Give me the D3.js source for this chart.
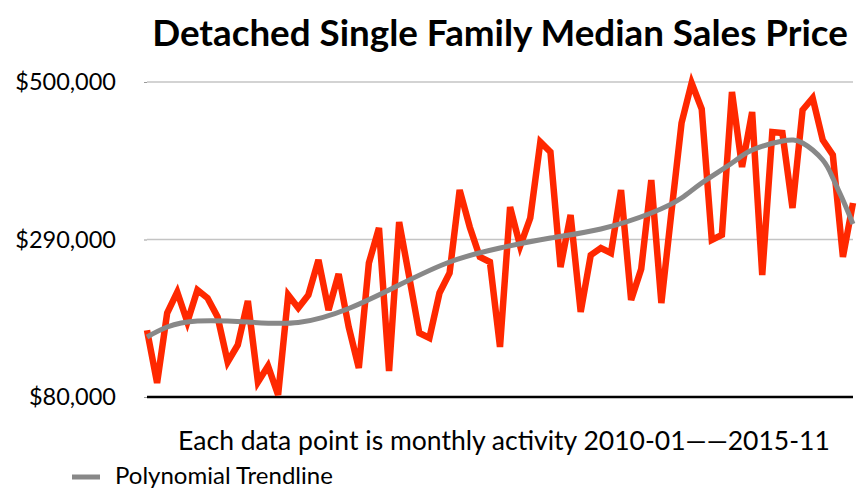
<!DOCTYPE html>
<html>
<head>
<meta charset="utf-8">
<script src="https://cdn.jsdelivr.net/npm/d3@7"></script>
<style>
  body { margin: 0; background: #fff; }
  text { font-family: Lato, "Open Sans", sans-serif; fill: #000; }
</style>
</head>
<body>
<div id="chart"></div>
<script>
// monthly median sales price, 2010-01 .. 2015-11
var months = d3.timeMonth.range(new Date(2010, 0, 1), new Date(2015, 11, 1))
  .map(d3.timeFormat("%Y-%m"));

var prices = [
  169000, 98700, 192000, 220000, 180000, 222700, 212000, 186700, 126700, 149300,
  208000, 100000, 121300, 82700, 216000, 198700, 216000, 262700, 196000, 244000,
  173300, 118700, 258700, 305300, 114700, 313300, 240000, 165300, 158700, 218700,
  245300, 356000, 306700, 266700, 260000, 146700, 333300, 281300, 318700, 420000,
  406700, 253300, 322700, 193300, 269300, 278700, 272000, 356000, 209300, 250700,
  369300, 205300, 326700, 445300, 498700, 464000, 289300, 296000, 486700, 386700,
  460000, 242700, 433300, 432000, 332000, 462700, 478700, 422700, 402700, 266700,
  338700
];

// polynomial trendline at some months
var trendIdx = [0, 2, 5, 10, 15, 20, 25, 30, 35, 40, 45, 50, 53, 55, 58, 60, 63, 65, 67, 68, 69, 70];
var trendVal = [160000, 173300, 181300, 180000, 179300, 198000, 229300, 260000,
  278700, 292000, 304000, 325300, 345300, 365300, 392000, 409300, 421300, 418700,
  396000, 372000, 342700, 310700];

var yTicks = [80000, 290000, 500000];

var W = 867, H = 490;
var margin = {top: 82, right: 14, bottom: 93, left: 147};

var svg = d3.select("#chart").append("svg")
  .attr("width", W)
  .attr("height", H);

var x = d3.scalePoint()
  .domain(months)
  .range([margin.left, W - margin.right]);

var y = d3.scaleLinear()
  .domain([80000, 500000])
  .range([H - margin.bottom, margin.top]);

function fit(sel, size, target) {
  sel.style("font-size", size + "px");
  var w = sel.node().getComputedTextLength();
  sel.style("font-size", (size * target / w) + "px");
}

// title
var title = svg.append("text")
  .attr("x", 500)
  .attr("y", 46)
  .attr("text-anchor", "middle")
  .style("font-weight", "bold")
  .text("Detached Single Family Median Sales Price");
fit(title, 32, 696);

// gridlines
svg.append("g")
  .selectAll("line")
  .data(yTicks.slice(1))
  .enter()
  .append("line")
    .attr("x1", margin.left)
    .attr("x2", W - margin.right)
    .attr("y1", function(d) { return y(d); })
    .attr("y2", function(d) { return y(d); })
    .attr("stroke", "#c4c4c4")
    .attr("stroke-width", 1.3);

// y axis
var yAxis = svg.append("g")
  .attr("transform", "translate(" + margin.left + ",0)")
  .call(d3.axisLeft(y)
    .tickValues(yTicks)
    .tickSize(3)
    .tickPadding(28)
    .tickFormat(function(d) { return "$" + d3.format(",")(d); }));
yAxis.select(".domain").remove();
yAxis.selectAll(".tick line").attr("stroke", "#999");
yAxis.selectAll("text")
  .style("font-size", "23.5px")
  .style("font-family", "Lato, sans-serif")
  .attr("fill", "#000");

// bottom axis line
svg.append("line")
  .attr("x1", margin.left)
  .attr("x2", W - margin.right)
  .attr("y1", y(80000))
  .attr("y2", y(80000))
  .attr("stroke", "#000")
  .attr("stroke-width", 2.5);

// price line
var line = d3.line()
  .x(function(d, i) { return x(months[i]); })
  .y(function(d) { return y(d); });

svg.append("path")
  .datum(prices)
  .attr("fill", "none")
  .attr("stroke", "#ff2800")
  .attr("stroke-width", 6.5)
  .attr("stroke-linejoin", "miter")
  .attr("stroke-miterlimit", 4)
  .attr("d", line);

// trendline
var trend = d3.line()
  .curve(d3.curveNatural)
  .x(function(d, i) { return x(months[trendIdx[i]]); })
  .y(function(d) { return y(d); });

svg.append("path")
  .datum(trendVal)
  .attr("fill", "none")
  .attr("stroke", "#888")
  .attr("stroke-width", 5)
  .attr("d", trend);

// caption
var cap = svg.append("text")
  .attr("x", 504)
  .attr("y", 450)
  .attr("text-anchor", "middle")
  .text("Each data point is monthly activity 2010-01\u2014\u20142015-11");
fit(cap, 24, 652);

// legend
svg.append("line")
  .attr("x1", 72).attr("x2", 100)
  .attr("y1", 477).attr("y2", 477)
  .attr("stroke", "#888")
  .attr("stroke-width", 5);

var leg = svg.append("text")
  .attr("x", 115)
  .attr("y", 484)
  .text("Polynomial Trendline");
fit(leg, 20, 218);
</script>
</body>
</html>
